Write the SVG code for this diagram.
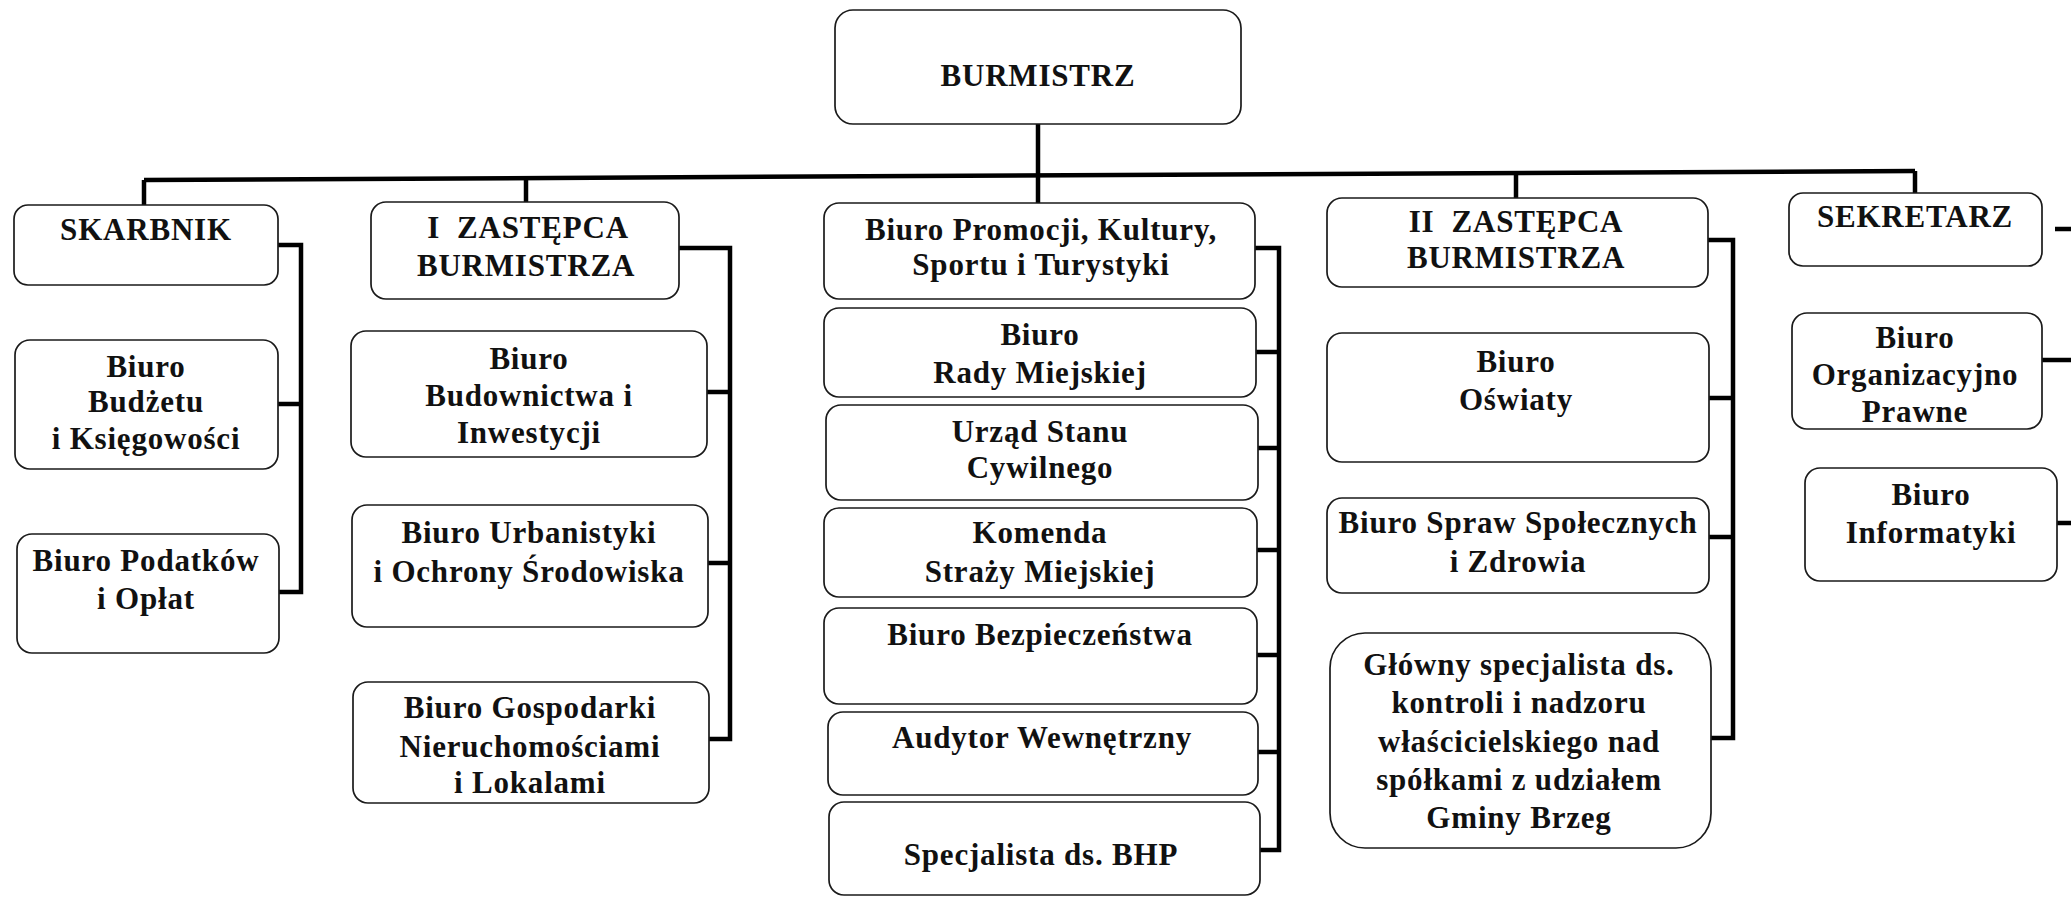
<svg xmlns="http://www.w3.org/2000/svg" width="2071" height="897" viewBox="0 0 2071 897">
<style>
.box{fill:#fff;stroke:#1a1a1a;stroke-width:1.7}
.t{font-family:"Liberation Serif","Times New Roman",serif;font-weight:bold;font-size:31px;letter-spacing:0.8px;fill:#111;text-anchor:middle}
.c{fill:none;stroke:#000;stroke-width:4.5;stroke-linejoin:miter}
</style>
<rect width="2071" height="897" fill="#fff"/>
<g id="connectors">
<path class="c" d="M1038,124 V203"/>
<path class="c" d="M144,180 L1915,171"/>
<path class="c" d="M144,180 V205"/>
<path class="c" d="M526,178 V202"/>
<path class="c" d="M1516,172 V198"/>
<path class="c" d="M1915,171 V193"/>
<path class="c" d="M278,245 H301 V592 H279 M278,404 H301"/>
<path class="c" d="M679,248 H730 V739 H709 M707,392 H730 M708,563 H730"/>
<path class="c" d="M1255,248 H1279 V850 H1260 M1256,352 H1279 M1258,448 H1279 M1257,550 H1279 M1257,655 H1279 M1258,752 H1279"/>
<path class="c" d="M1708,240 H1733 V738 H1711 M1709,398 H1733 M1709,537 H1733"/>
<path class="c" d="M2055,229 H2071 M2042,360 H2071 M2057,523 H2071"/>
</g>
<g id="burmistrz"><rect class="box" x="835" y="10" width="406" height="114" rx="18"/><text class="t" x="1038" y="86">BURMISTRZ</text></g>
<g id="skarbnik"><rect class="box" x="14" y="205" width="264" height="80" rx="14"/><text class="t" x="146" y="240">SKARBNIK</text></g>
<g id="zastepca1"><rect class="box" x="371" y="202" width="308" height="97" rx="15"/><text class="t" x="528" y="238" xml:space="preserve">I  ZASTĘPCA</text><text class="t" x="526" y="276">BURMISTRZA</text></g>
<g id="promocja"><rect class="box" x="824" y="203" width="431" height="96" rx="15"/><text class="t" x="1041" y="240">Biuro Promocji, Kultury,</text><text class="t" x="1041" y="275">Sportu i Turystyki</text></g>
<g id="zastepca2"><rect class="box" x="1327" y="198" width="381" height="89" rx="15"/><text class="t" x="1516" y="232" xml:space="preserve">II  ZASTĘPCA</text><text class="t" x="1516" y="268">BURMISTRZA</text></g>
<g id="sekretarz"><rect class="box" x="1789" y="193" width="253" height="73" rx="14"/><text class="t" x="1915" y="227">SEKRETARZ</text></g>
<g id="budzet"><rect class="box" x="15" y="340" width="263" height="129" rx="15"/><text class="t" x="146" y="377">Biuro</text><text class="t" x="146" y="412">Budżetu</text><text class="t" x="146" y="449">i Księgowości</text></g>
<g id="podatki"><rect class="box" x="17" y="534" width="262" height="119" rx="15"/><text class="t" x="146" y="571">Biuro Podatków</text><text class="t" x="146" y="609">i Opłat</text></g>
<g id="budownictwo"><rect class="box" x="351" y="331" width="356" height="126" rx="15"/><text class="t" x="529" y="369">Biuro</text><text class="t" x="529" y="406">Budownictwa i</text><text class="t" x="529" y="443">Inwestycji</text></g>
<g id="urbanistyka"><rect class="box" x="352" y="505" width="356" height="122" rx="15"/><text class="t" x="529" y="543">Biuro Urbanistyki</text><text class="t" x="529" y="582">i Ochrony Środowiska</text></g>
<g id="gospodarka"><rect class="box" x="353" y="682" width="356" height="121" rx="15"/><text class="t" x="530" y="718">Biuro Gospodarki</text><text class="t" x="530" y="757">Nieruchomościami</text><text class="t" x="530" y="793">i Lokalami</text></g>
<g id="rada"><rect class="box" x="824" y="308" width="432" height="89" rx="15"/><text class="t" x="1040" y="345">Biuro</text><text class="t" x="1040" y="383">Rady Miejskiej</text></g>
<g id="usc"><rect class="box" x="826" y="405" width="432" height="95" rx="15"/><text class="t" x="1040" y="442">Urząd Stanu</text><text class="t" x="1040" y="478">Cywilnego</text></g>
<g id="straz"><rect class="box" x="824" y="508" width="433" height="89" rx="15"/><text class="t" x="1040" y="543">Komenda</text><text class="t" x="1040" y="582">Straży Miejskiej</text></g>
<g id="bezpieczenstwo"><rect class="box" x="824" y="608" width="433" height="96" rx="15"/><text class="t" x="1040" y="645">Biuro Bezpieczeństwa</text></g>
<g id="audytor"><rect class="box" x="828" y="712" width="430" height="83" rx="15"/><text class="t" x="1042" y="748">Audytor Wewnętrzny</text></g>
<g id="bhp"><rect class="box" x="829" y="802" width="431" height="93" rx="15"/><text class="t" x="1041" y="865">Specjalista ds. BHP</text></g>
<g id="oswiata"><rect class="box" x="1327" y="333" width="382" height="129" rx="15"/><text class="t" x="1516" y="372">Biuro</text><text class="t" x="1516" y="410">Oświaty</text></g>
<g id="sprawy"><rect class="box" x="1327" y="498" width="382" height="95" rx="15"/><text class="t" x="1518" y="533">Biuro Spraw Społecznych</text><text class="t" x="1518" y="572">i Zdrowia</text></g>
<g id="glowny"><rect class="box" x="1330" y="633" width="381" height="215" rx="35"/><text class="t" x="1519" y="675">Główny specjalista ds.</text><text class="t" x="1519" y="713">kontroli i nadzoru</text><text class="t" x="1519" y="752">właścicielskiego nad</text><text class="t" x="1519" y="790">spółkami z udziałem</text><text class="t" x="1519" y="828">Gminy Brzeg</text></g>
<g id="organizacyjne"><rect class="box" x="1792" y="313" width="250" height="116" rx="15"/><text class="t" x="1915" y="348">Biuro</text><text class="t" x="1915" y="385">Organizacyjno</text><text class="t" x="1915" y="422">Prawne</text></g>
<g id="informatyka"><rect class="box" x="1805" y="468" width="252" height="113" rx="15"/><text class="t" x="1931" y="505">Biuro</text><text class="t" x="1931" y="543">Informatyki</text></g>
</svg>
